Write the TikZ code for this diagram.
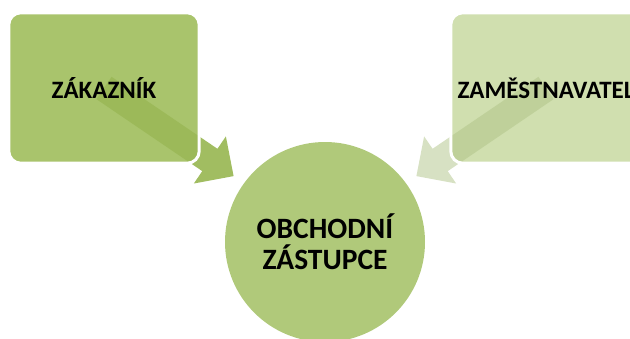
\documentclass[tikz,border=0pt]{standalone}
\usepackage{fontspec}
\setmainfont{Carlito}
\usetikzlibrary{calc}
\definecolor{boxL}{RGB}{169,196,108}
\definecolor{boxR}{RGB}{208,223,175}
\definecolor{circ}{RGB}{176,201,122}
\definecolor{arrL}{RGB}{156,185,88}
\definecolor{arrR}{RGB}{175,195,135}
\begin{document}
\begin{tikzpicture}[x=1pt,y=-1pt,
  box/.style={rectangle, rounded corners=12pt, minimum width=190pt, minimum height=150pt, inner sep=0pt},
  outline/.style={draw=white, line width=3pt, rounded corners=12pt},
  lbl/.style={font=\bfseries\fontsize{25}{30}\selectfont, text=black, inner sep=0pt},
  big/.style={font=\bfseries\fontsize{29.5}{31}\selectfont, text=black, align=center}]
\clip (0,0) rectangle (630,338);
\node[box, fill=boxL] (k) at (104,88) {};
\node[box, fill=boxR] (z) at (546,88) {};
\node[circle, fill=circ, minimum size=200pt, inner sep=0pt, big] (o) at (325,242) {OBCHODNÍ\\ZÁSTUPCE};
\coordinate (t1) at (233.6,176.1);
\coordinate (t2) at (416.4,176.1);
\coordinate (b1) at ($(k.center)!128pt!(t1)$);
\coordinate (b2) at ($(z.center)!128pt!(t2)$);
\fill[arrL, fill opacity=0.95]
  ($(k.center)!13.5pt!90:(t1)$) -- ($(b1)!13.5pt!90:(t1)$) -- ($(b1)!28.5pt!90:(t1)$) -- (t1)
  -- ($(b1)!28.5pt!-90:(t1)$) -- ($(b1)!13.5pt!-90:(t1)$) -- ($(k.center)!13.5pt!-90:(t1)$) -- cycle;
\fill[arrR, fill opacity=0.5]
  ($(z.center)!13.5pt!90:(t2)$) -- ($(b2)!13.5pt!90:(t2)$) -- ($(b2)!28.5pt!90:(t2)$) -- (t2)
  -- ($(b2)!28.5pt!-90:(t2)$) -- ($(b2)!13.5pt!-90:(t2)$) -- ($(z.center)!13.5pt!-90:(t2)$) -- cycle;
\draw[outline] (k.north west) rectangle (k.south east);
\draw[outline] (z.north west) rectangle (z.south east);
\node[lbl] (kl) at (k.center) {ZÁKAZNÍK};
\node[lbl] (zl) at (z.center) {ZAMĚSTNAVATEL};
\end{tikzpicture}
\end{document}
